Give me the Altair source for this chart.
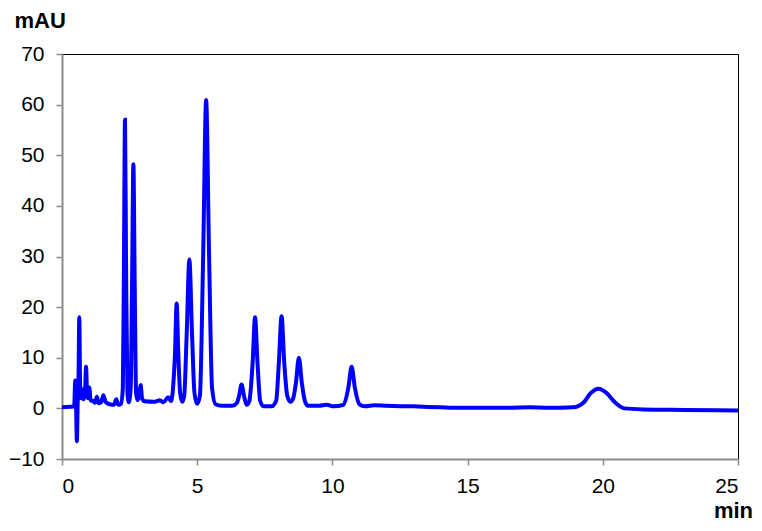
import pandas as pd
import altair as alt

# Chromatogram trace (time in min, absorbance in mAU)
time_min = [
    0.00, 0.30, 0.45, 0.49, 0.52, 0.55, 0.58, 0.61, 0.64, 0.67,
    0.70, 0.75, 0.80, 0.85, 0.89, 0.93, 0.97, 1.01, 1.06, 1.16,
    1.22, 1.29, 1.36, 1.45, 1.53, 1.62, 1.78, 1.92, 2.01, 2.08,
    2.18, 2.25, 2.29, 2.33, 2.37, 2.42, 2.47, 2.54, 2.59, 2.64,
    2.69, 2.74, 2.80, 2.86, 2.91, 2.96, 3.05, 3.40, 3.62, 3.75,
    3.93, 4.03, 4.12, 4.18, 4.24, 4.30, 4.37, 4.45, 4.52, 4.61,
    4.71, 4.81, 4.90, 5.00, 5.10, 5.22, 5.33, 5.44, 5.55, 5.68,
    5.90, 6.30, 6.46, 6.55, 6.64, 6.73, 6.83, 6.93, 7.05, 7.14,
    7.23, 7.33, 7.45, 7.75, 7.92, 8.02, 8.12, 8.22, 8.33, 8.45,
    8.55, 8.65, 8.76, 8.87, 8.98, 9.10, 9.50, 9.79, 10.05, 10.40,
    10.59, 10.71, 10.83, 11.00, 11.20, 11.55, 12.00, 13.00, 14.00, 14.70,
    15.50, 16.50, 17.30, 18.00, 18.90, 19.30, 19.55, 19.84, 20.15, 20.45,
    20.80, 21.50, 23.00, 25.00,
]
absorbance = [
    0.2, 0.3, 0.4, 5.5, 0.8, -6.5, 1.0, 6.0, 18.0, 5.0,
    2.0, 3.8, 1.8, 3.0, 8.2, 2.5, 2.0, 4.1, 1.6, 1.4,
    1.1, 2.3, 1.0, 1.2, 2.6, 1.2, 0.8, 0.7, 1.8, 0.7,
    0.9, 4.0, 28.0, 57.0, 28.0, 3.0, 1.2, 4.0, 24.0, 48.2,
    24.0, 3.0, 1.6, 3.0, 4.6, 2.0, 1.4, 1.3, 1.6, 1.2,
    2.2, 1.4, 5.0, 11.0, 20.7, 11.0, 3.0, 1.3, 2.5, 14.5,
    29.4, 14.5, 3.0, 0.9, 2.5, 30.0, 60.9, 30.0, 4.0, 0.8,
    0.5, 0.5, 1.0, 2.5, 4.7, 2.5, 0.7, 1.5, 9.0, 18.0,
    9.0, 1.5, 0.4, 0.4, 1.5, 9.0, 18.2, 9.0, 2.5, 1.3,
    2.0, 5.0, 10.0, 5.0, 1.5, 0.5, 0.5, 0.7, 0.4, 0.7,
    4.1, 8.2, 4.1, 0.8, 0.4, 0.6, 0.5, 0.4, 0.2, 0.1,
    0.1, 0.1, 0.2, 0.1, 0.2, 1.2, 3.0, 3.9, 3.0, 1.2,
    0.0, -0.2, -0.3, -0.4,
]

x_ticks = [0, 5, 10, 15, 20, 25]
y_ticks = [-10, 0, 10, 20, 30, 40, 50, 60, 70]

df = pd.DataFrame({"t": time_min, "mau": absorbance})

FONT = "Liberation Sans"
GREY = "#8c8c8c"
LABEL_SIZE = 21
TITLE_SIZE = 22

x_axis = alt.Axis(
    values=x_ticks, grid=False,
    domainColor=GREY, domainWidth=2, tickColor=GREY, tickWidth=1.5, tickSize=6,
    labelFont=FONT, labelFontSize=LABEL_SIZE, labelColor="black", labelPadding=10,
    title="min", titleFont=FONT, titleFontSize=TITLE_SIZE, titleFontWeight="bold",
    titleColor="black", titleX=671, titleY=58, titleAlign="center",
    titleBaseline="alphabetic",
)
y_axis = alt.Axis(
    values=y_ticks, grid=False,
    domainColor=GREY, domainWidth=2, tickColor=GREY, tickWidth=1.5, tickSize=6,
    labelFont=FONT, labelFontSize=LABEL_SIZE, labelColor="black", labelPadding=12,
    title="mAU", titleFont=FONT, titleFontSize=TITLE_SIZE, titleFontWeight="bold",
    titleColor="black", titleAngle=0, titleX=-48, titleY=-27, titleAlign="left",
    titleBaseline="alphabetic",
)

chart = alt.Chart(df).mark_line(
    color="#0000FF", strokeWidth=4, interpolate="monotone"
).encode(
    x=alt.X("t:Q", scale=alt.Scale(domain=[0, 25], nice=False), axis=x_axis),
    y=alt.Y("mau:Q", scale=alt.Scale(domain=[-10, 70], nice=False), axis=y_axis),
).properties(
    width=676,
    height=405,
    autosize=alt.AutoSizeParams(type="none"),
    padding={"left": 54, "top": 46, "right": 16, "bottom": 64},
).configure_view(
    stroke="black",
    strokeWidth=1,
)

chart.save("out.html", embed_options={"renderer": "svg", "actions": False})
